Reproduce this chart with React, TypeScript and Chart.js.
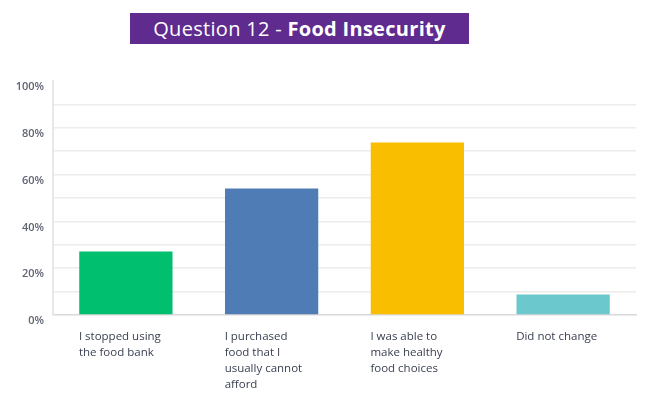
import React, { useEffect, useRef } from "react";
import { Chart, registerables } from "chart.js";

Chart.register(...registerables);

const categories: string[][] = [
  ["I stopped using", "the food bank"],
  ["I purchased", "food that I", "usually cannot", "afford"],
  ["I was able to", "make healthy", "food choices"],
  ["Did not change"],
];
const values: number[] = [27.1, 54.1, 73.7, 8.8];
const barColors: string[] = ["#00bf6f", "#507cb6", "#f9be00", "#6bc8cd"];
const yMin = 0;
const yMax = 100;
const yStep = 10;
const yLabelEvery = 20;
const titleNormal = "Question 12 - ";
const titleBold = "Food Insecurity";

export default function App() {
  const canvasRef = useRef<HTMLCanvasElement | null>(null);

  useEffect(() => {
    if (!canvasRef.current) return;
    const chart = new Chart(canvasRef.current, {
      type: "bar",
      data: {
        labels: categories,
        datasets: [
          {
            data: values,
            backgroundColor: barColors,
            borderWidth: 0,
            barPercentage: 0.64,
            categoryPercentage: 1,
          },
        ],
      },
      options: {
        animation: false,
        responsive: false,
        maintainAspectRatio: false,
        layout: { padding: { top: 81, right: 11, left: 0, bottom: 0 } },
        plugins: {
          legend: { display: false },
          title: { display: false },
          tooltip: { enabled: false },
        },
        scales: {
          x: {
            grid: { display: false, drawTicks: false },
            border: { display: true, color: "#d9d9d9", width: 1.5 },
            ticks: {
              align: "start",
              labelOffset: -47,
              padding: 14,
              maxRotation: 0,
              autoSkip: false,
              color: "#3b4153",
              font: { family: "'Open Sans', sans-serif", size: 11.5, lineHeight: 1.38 },
            },
            afterFit: (scale: any) => {
              scale.height = 81;
              scale.paddingLeft = 0;
              scale.paddingRight = 0;
            },
          },
          y: {
            min: yMin,
            max: yMax,
            grid: {
              drawTicks: false,
              color: (ctx: any) =>
                ctx.tick && (ctx.tick.value === yMax || ctx.tick.value === yMin)
                  ? "rgba(0,0,0,0)"
                  : "#ececec",
              lineWidth: 1.5,
            },
            border: { display: true, color: "#e8e8e8", width: 2 },
            ticks: {
              stepSize: yStep,
              padding: 9,
              labelOffset: 6,
              autoSkip: false,
              color: "#5f6372",
              font: { family: "'Open Sans', sans-serif", size: 11, weight: "600" },
              callback: (v: any) => (Number(v) % yLabelEvery === 0 ? v + "%" : ""),
            },
            afterFit: (scale: any) => {
              scale.width = 53;
            },
          },
        },
      },
    });
    return () => chart.destroy();
  }, []);

  return (
    <div style={{ position: "fixed", left: 0, top: 0, width: 647, height: 396, background: "#fff" }}>
      <div
        style={{
          position: "absolute",
          left: 130,
          top: 13,
          width: 339,
          height: 31,
          background: "#5f2b8f",
          color: "#fff",
          fontFamily: "'Open Sans', sans-serif",
          fontSize: 20,
          letterSpacing: 0.3,
          lineHeight: "31px",
          textAlign: "center",
          whiteSpace: "nowrap",
        }}
      >
        <span style={{ fontWeight: 400 }}>{titleNormal}</span>
        <span style={{ fontWeight: 700 }}>{titleBold}</span>
      </div>
      <canvas ref={canvasRef} width={647} height={396} style={{ position: "absolute", left: 0, top: 0 }} />
    </div>
  );
}
